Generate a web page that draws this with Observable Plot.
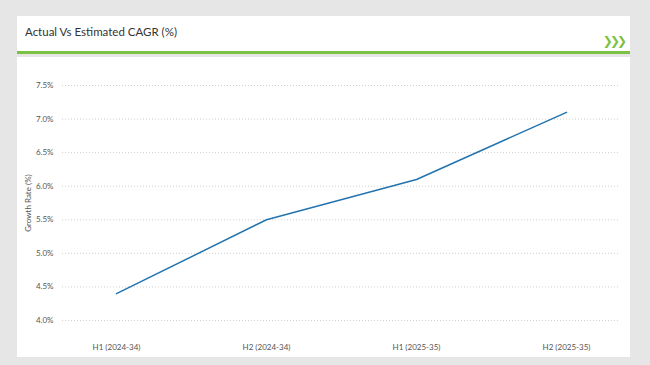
<!DOCTYPE html>
<html>
<head>
<meta charset="utf-8">
<script src="https://cdn.jsdelivr.net/npm/d3@7"></script>
<script src="https://cdn.jsdelivr.net/npm/@observablehq/plot@0.6"></script>
<style>
  html, body { margin: 0; padding: 0; background: #e6e6e6; width: 650px; height: 365px; overflow: hidden; font-family: Lato, "Open Sans", sans-serif; }
  #header { position: absolute; left: 17px; top: 16px; width: 613px; height: 35px; background: #fff; }
  #title { position: absolute; left: 8px; top: 9px; font-size: 11.5px; color: #333; }
  #chev { position: absolute; right: 6px; top: 18px; font-size: 12px; color: #7dc142; font-weight: bold; letter-spacing: -3px; font-family: "DejaVu Sans", sans-serif; }
  #rule { position: absolute; left: 17px; top: 51px; width: 613px; height: 3px; background: #7dc142; }
  #panel { position: absolute; left: 17px; top: 57px; width: 613px; height: 300px; background: #fff; }
</style>
</head>
<body>
<div id="header"><div id="title">Actual Vs Estimated CAGR (%)</div><div id="chev">❯❯❯</div></div>
<div id="rule"></div>
<div id="panel"></div>
<script>
const periods = ["H1 (2024-34)", "H2 (2024-34)", "H1 (2025-35)", "H2 (2025-35)"];
const growth = [4.4, 5.5, 6.1, 7.1];
const yTicks = [4.0, 4.5, 5.0, 5.5, 6.0, 6.5, 7.0, 7.5];
const yLabel = "Growth Rate (%)";

const data = periods.map((p, i) => ({period: p, value: growth[i]}));

const chart = Plot.plot({
  width: 613,
  height: 300,
  marginLeft: 45,
  marginRight: 10,
  marginTop: 28,
  marginBottom: 37,
  style: {fontFamily: "Lato, 'Open Sans', sans-serif", fontSize: "8px", color: "#555", background: "#fff"},
  x: {type: "point", domain: periods, padding: 0.36},
  y: {domain: [4.0, 7.5]},
  marks: [
    Plot.ruleY(yTicks, {stroke: "#d0d0d0", strokeDasharray: "1,2", strokeWidth: 1}),
    Plot.axisY({ticks: yTicks, tickFormat: d => d.toFixed(1) + "%", tickSize: 0, tickPadding: 9, label: null, fontSize: 8}),
    Plot.text([yLabel], {frameAnchor: "left", textAnchor: "middle", dx: -34, rotate: -90, fontSize: 8, fill: "#555"}),
    Plot.axisX({tickSize: 0, tickPadding: 24, label: null, fontSize: 8}),
    Plot.line(data, {x: "period", y: "value", stroke: "#2273ae", strokeWidth: 1.5})
  ]
});
document.getElementById("panel").appendChild(chart);
</script>
</body>
</html>
